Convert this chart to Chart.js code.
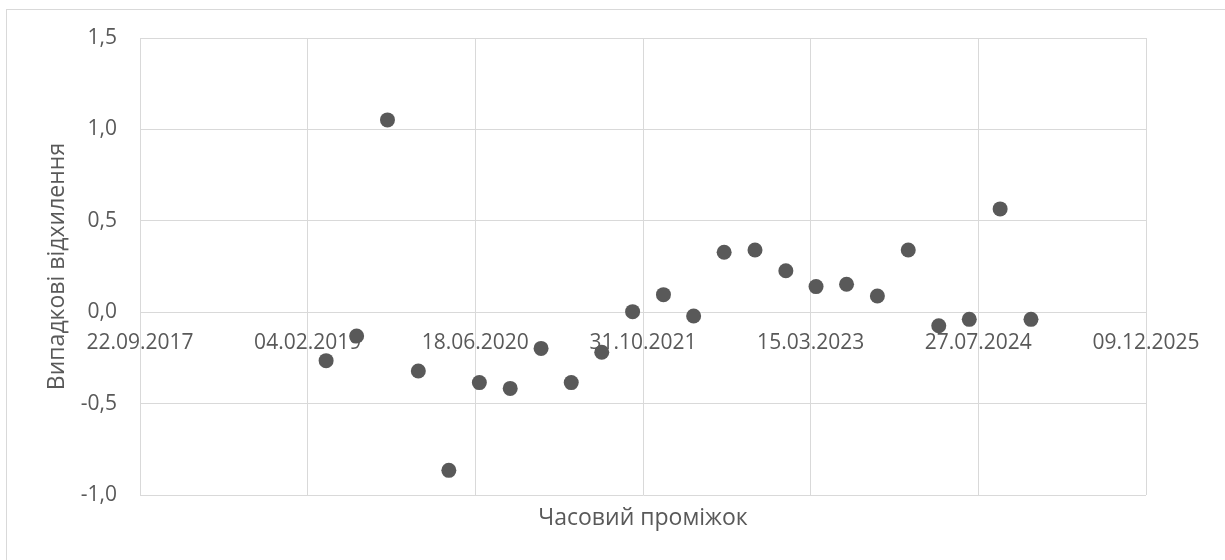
<!DOCTYPE html>
<html>
<head>
<meta charset="utf-8">
<title>Випадкові відхилення</title>
<script src="https://cdn.jsdelivr.net/npm/chart.js@4/dist/chart.umd.min.js"></script>
<style>
  html, body { margin: 0; padding: 0; background: #ffffff; overflow: hidden; }
  #frame {
    position: absolute; left: 6px; top: 9px;
    width: 1300px; height: 600px;
    border: 1px solid #d9d9d9; box-sizing: border-box;
  }
  #wrap { position: absolute; left: 0; top: 0; width: 1225px; height: 560px; }
</style>
</head>
<body>
<div id="frame"></div>
<div id="wrap"><canvas id="chart" width="1225" height="560"></canvas></div>
<script>
// Quarter-end dates of the observations
const dates = [
  '2019-03-31', '2019-06-30', '2019-09-30', '2019-12-31',
  '2020-03-31', '2020-06-30', '2020-09-30', '2020-12-31',
  '2021-03-31', '2021-06-30', '2021-09-30', '2021-12-31',
  '2022-03-31', '2022-06-30', '2022-09-30', '2022-12-31',
  '2023-03-31', '2023-06-30', '2023-09-30', '2023-12-31',
  '2024-03-31', '2024-06-30', '2024-09-30', '2024-12-31'
];

// Random deviations for each quarter
const deviations = [
  -0.265, -0.130, 1.052, -0.322,
  -0.865, -0.385, -0.417, -0.198,
  -0.385, -0.219, 0.003, 0.096,
  -0.021, 0.328, 0.340, 0.227,
  0.140, 0.153, 0.089, 0.340,
  -0.074, -0.039, 0.565, -0.039
];

// Date-axis tick positions (every 500 days)
const xTickDates = [
  '2017-09-22', '2019-02-04', '2020-06-18', '2021-10-31',
  '2023-03-15', '2024-07-27', '2025-12-09'
];

// Value-axis ticks
const yTicks = [-1.0, -0.5, 0.0, 0.5, 1.0, 1.5];

const xTitle = 'Часовий проміжок';
const yTitle = 'Випадкові відхилення';

// Spreadsheet-style serial day number (days since 1899-12-30)
function serial(iso) {
  const [y, m, d] = iso.split('-').map(Number);
  return Math.round((Date.UTC(y, m - 1, d) - Date.UTC(1899, 11, 30)) / 86400000);
}
function formatSerial(n) {
  const t = new Date(Date.UTC(1899, 11, 30) + n * 86400000);
  const dd = String(t.getUTCDate()).padStart(2, '0');
  const mm = String(t.getUTCMonth() + 1).padStart(2, '0');
  return dd + '.' + mm + '.' + t.getUTCFullYear();
}

const FONT_FAMILY = '"Open Sans", "Noto Sans", sans-serif';
const TEXT_COLOR = '#595959';
const GRID_COLOR = '#d9d9d9';
const TICK_SIZE = 21;
const TITLE_SIZE = 23;

const points = dates.map((d, i) => ({ x: serial(d), y: deviations[i] }));
const xTickValues = xTickDates.map(serial);

// Draws the two axis titles, centred on the plot area
const axisTitles = {
  id: 'axisTitles',
  afterDraw(chart) {
    const { ctx, chartArea } = chart;
    ctx.save();
    ctx.fillStyle = TEXT_COLOR;
    ctx.font = TITLE_SIZE + 'px ' + FONT_FAMILY;
    ctx.textAlign = 'center';
    ctx.textBaseline = 'middle';
    ctx.fillText(xTitle, (chartArea.left + chartArea.right) / 2, chartArea.bottom + 23);
    ctx.translate(57, (chartArea.top + chartArea.bottom) / 2);
    ctx.rotate(-Math.PI / 2);
    ctx.fillText(yTitle, 0, 0);
    ctx.restore();
  }
};

function build() {
  new Chart(document.getElementById('chart'), {
    type: 'scatter',
    data: {
      datasets: [{
        data: points,
        backgroundColor: '#595959',
        borderWidth: 0,
        pointRadius: 7.5,
        pointHoverRadius: 7.5
      }]
    },
    options: {
      responsive: false,
      animation: false,
      devicePixelRatio: 1,
      layout: { padding: { left: 0, top: 38, right: 79, bottom: 65 } },
      plugins: {
        legend: { display: false },
        tooltip: { enabled: false }
      },
      scales: {
        x: {
          type: 'linear',
          position: { y: 0 },
          min: xTickValues[0],
          max: xTickValues[xTickValues.length - 1],
          afterBuildTicks(scale) {
            scale.ticks = xTickValues.map(v => ({ value: v }));
          },
          grid: { color: GRID_COLOR, lineWidth: 1, drawTicks: false },
          border: { color: GRID_COLOR, width: 1 },
          ticks: {
            padding: 18,
            maxRotation: 0,
            autoSkip: false,
            color: TEXT_COLOR,
            font: { family: FONT_FAMILY, size: TICK_SIZE },
            callback: v => formatSerial(v)
          }
        },
        y: {
          type: 'linear',
          min: yTicks[0],
          max: yTicks[yTicks.length - 1],
          afterFit(scale) { scale.width = 140; },
          afterBuildTicks(scale) {
            scale.ticks = yTicks.map(v => ({ value: v }));
          },
          grid: { color: GRID_COLOR, lineWidth: 1, drawTicks: false },
          border: { color: GRID_COLOR, width: 1 },
          ticks: {
            padding: 23,
            color: TEXT_COLOR,
            font: { family: FONT_FAMILY, size: TICK_SIZE },
            callback: v => v.toFixed(1).replace('.', ',')
          }
        }
      }
    },
    plugins: [axisTitles]
  });
}

if (document.fonts && document.fonts.load) {
  document.fonts.load(TICK_SIZE + 'px "Open Sans"').then(build, build);
} else {
  build();
}
</script>
</body>
</html>
